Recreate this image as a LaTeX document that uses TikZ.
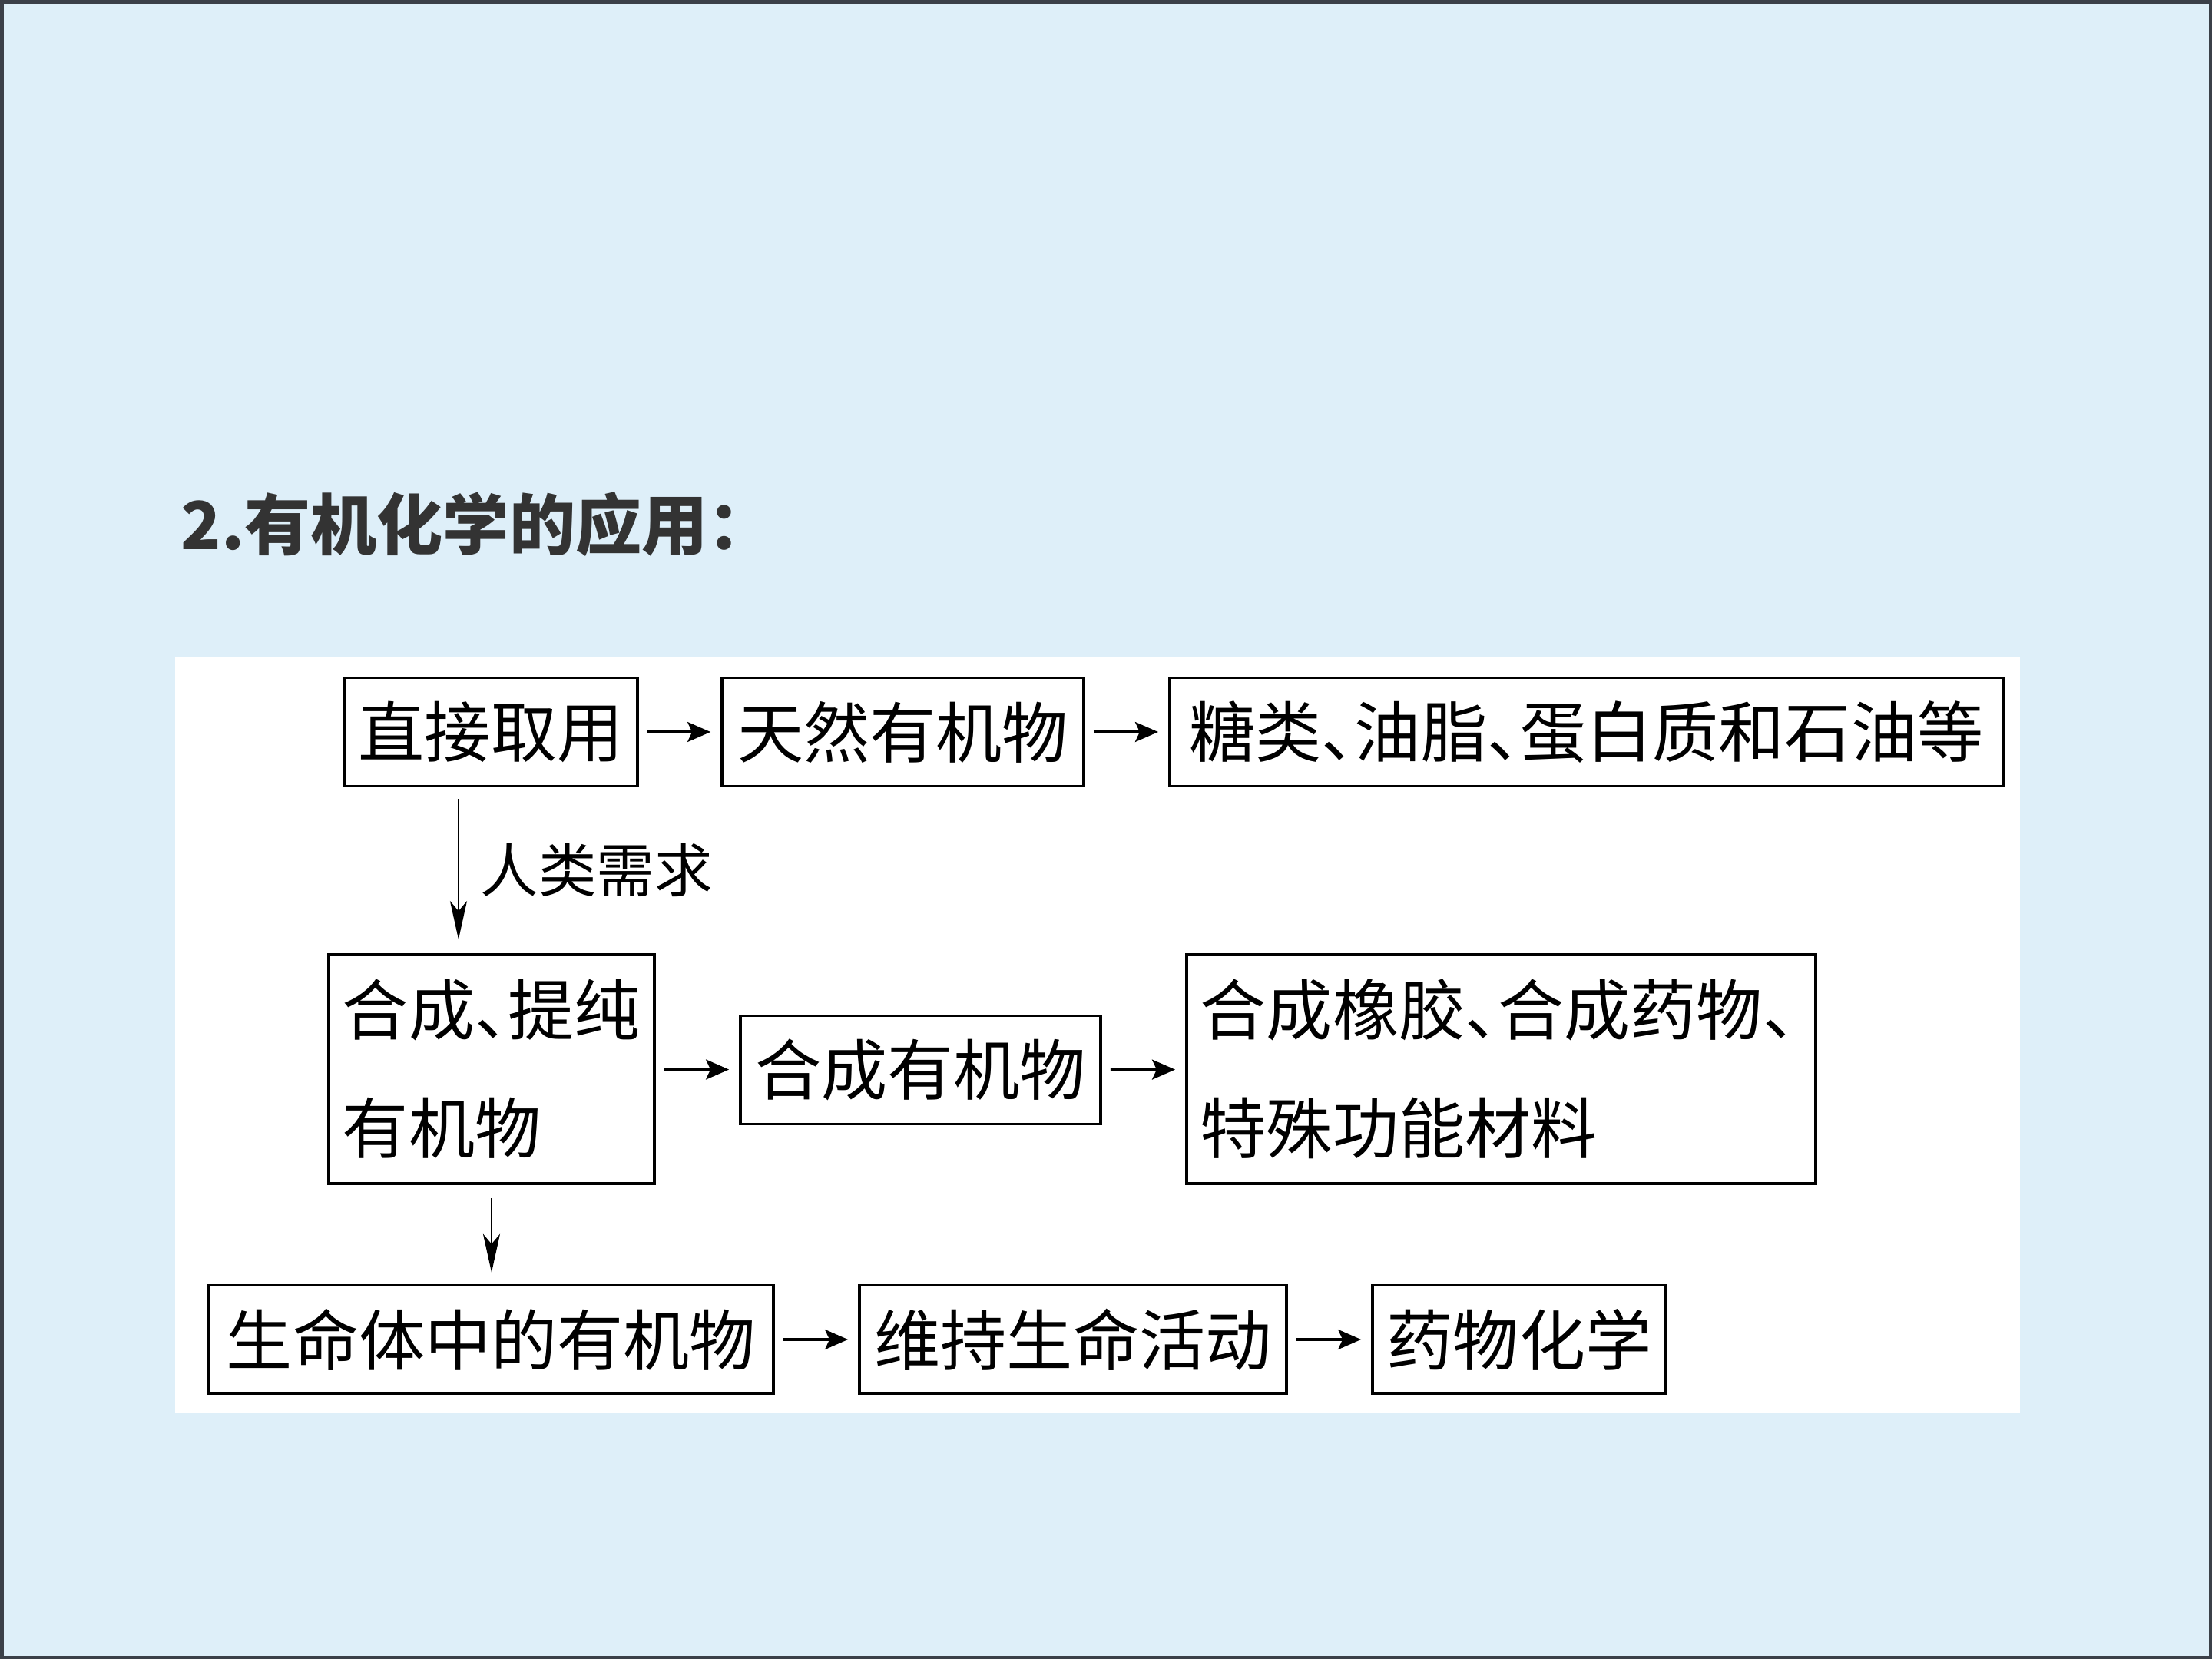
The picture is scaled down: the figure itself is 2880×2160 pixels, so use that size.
\documentclass[tikz,border=0pt]{standalone}
\usepackage{fontspec}
\newfontfamily\cjk{Noto Sans CJK SC}
\usetikzlibrary{arrows.meta}
\definecolor{bgblue}{RGB}{222,239,249}
\definecolor{framegray}{RGB}{59,64,73}
\definecolor{titlegray}{RGB}{51,51,51}
\newcommand{\hdun}{\makebox[0.5em][l]{、}}
\begin{document}
\begin{tikzpicture}[x=0.01cm,y=-0.01cm,
  box/.style={draw=black, line width=1pt, fill=white, inner sep=0pt,
    font=\cjk\fontsize{24.5}{43.8}\selectfont},
  rowbox/.style={box, minimum height=1.41cm},
  tallbox/.style={box, minimum height=2.98cm, align=left},
  harrow/.style={-{Stealth[length=0.3cm,width=0.26cm,inset=0.06cm]},
    line width=0.9pt, shorten <=0.11cm, shorten >=0.13cm},
  varrow/.style={-{Stealth[length=0.5cm,width=0.22cm,inset=0.13cm]},
    line width=0.7pt},
  lbl/.style={inner sep=0pt, anchor=west, font=\cjk\fontsize{21.5}{26}\selectfont},
  titletext/.style={inner sep=0pt, anchor=west, text=titlegray,
    font=\cjk\bfseries\fontsize{24.5}{28}\selectfont}
]
\useasboundingbox (0,0) rectangle (2880,2160);
\fill[bgblue] (0,0) rectangle (2880,2160);
\draw[framegray, line width=0.045cm] (2.25,2.25) rectangle (2877.75,2157.75);
\fill[white] (228,856) rectangle (2630,1840);

\node[titletext] (title) at (235,683) {2.有机化学的应用：};

% row 1
\node[rowbox, minimum width=3.82cm] (A) at (639,953) {直接取用};
\node[rowbox, minimum width=4.71cm] (B) at (1175.5,953) {天然有机物};
\node[rowbox, minimum width=10.85cm] (C) at (2065.5,953) {糖类\hdun 油脂\hdun 蛋白质和石油等};

% row 2
\node[tallbox, minimum width=4.24cm, text width=3.88cm] (D) at (640,1392) {合成\hdun 提纯\\有机物};
\node[rowbox, minimum width=4.69cm] (E) at (1198.5,1393) {合成有机物};
\node[tallbox, minimum width=8.19cm, text width=7.83cm] (F) at (1954.5,1392) {合成橡胶\hdun 合成药物\hdun\\特殊功能材料};

% row 3
\node[rowbox, minimum width=7.35cm] (G) at (639.5,1744) {生命体中的有机物};
\node[rowbox, minimum width=5.56cm] (H) at (1397,1744) {维持生命活动};
\node[rowbox, minimum width=3.82cm] (I) at (1978,1744) {药物化学};

\node[lbl] (need) at (625,1133) {人类需求};

% connectors
\draw[harrow] (A) -- (B);
\draw[harrow] (B) -- (C);
\draw[harrow] (D) -- (E);
\draw[harrow] (E) -- (F);
\draw[harrow] (G) -- (H);
\draw[harrow] (H) -- (I);
\draw[varrow, shorten <=0.15cm, shorten >=0.18cm] ([xshift=-0.42cm]A.south) -- ([xshift=-0.43cm]D.north);
\draw[varrow, shorten <=0.17cm, shorten >=0.15cm] (D.south) -- (D.south |- G.north);
\end{tikzpicture}
\end{document}
